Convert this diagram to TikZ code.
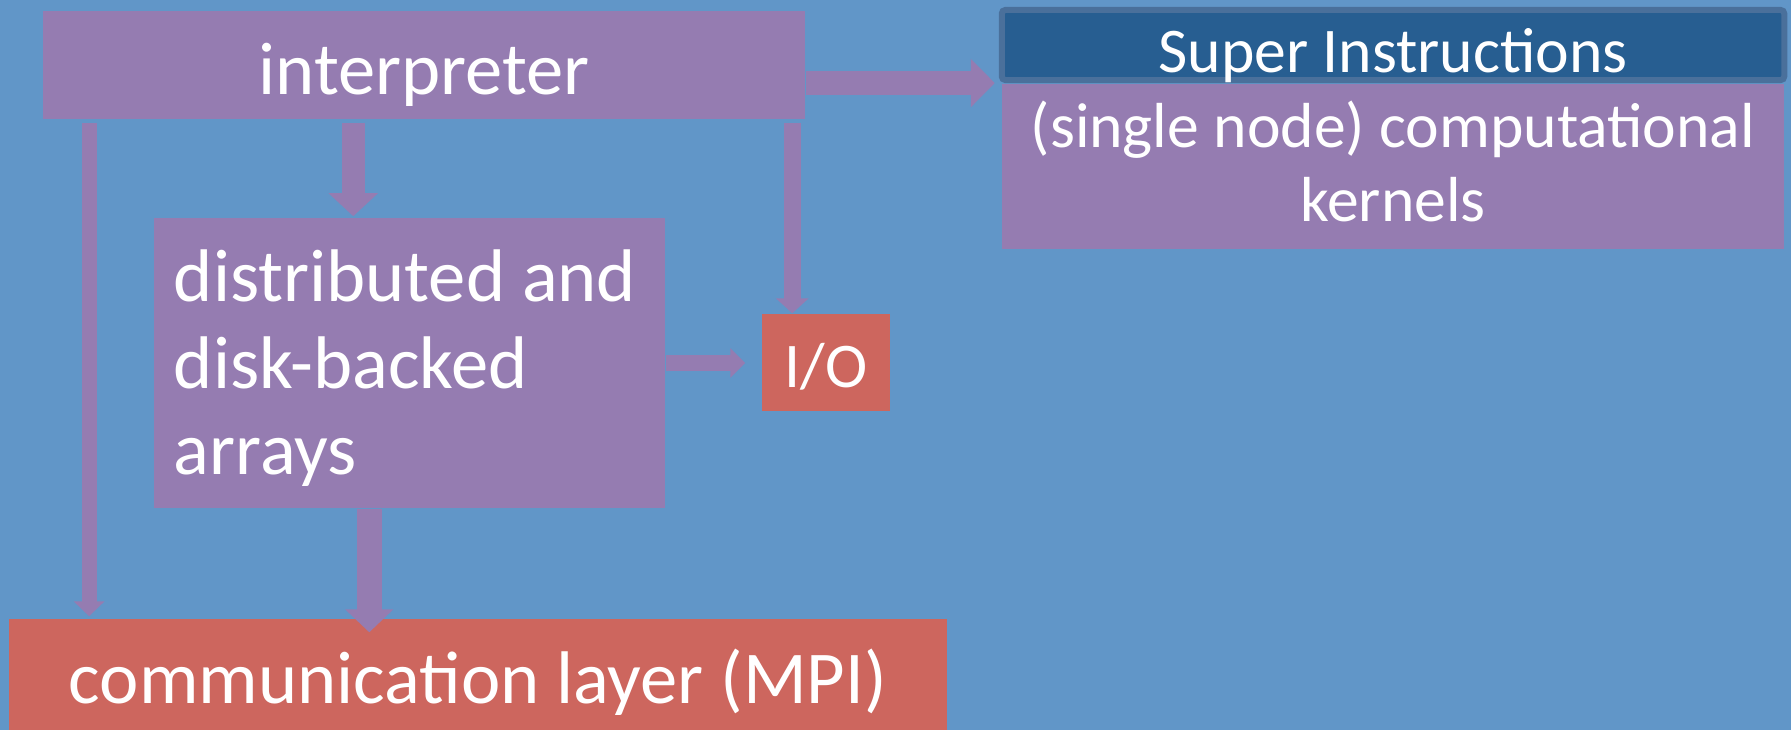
\documentclass[tikz,border=0pt]{standalone}
\usepackage{fontspec}
\setmainfont{Carlito}
\usetikzlibrary{arrows.meta,positioning}
\definecolor{bgblue}{RGB}{97,150,200}
\definecolor{purp}{RGB}{149,124,177}
\definecolor{redb}{RGB}{205,102,94}
\definecolor{darkb}{RGB}{39,94,145}
\definecolor{edgeb}{RGB}{74,112,155}
\tikzset{
  blockbox/.style={fill=#1, text=white, inner sep=0pt},
  bigtxt/.style={font=\fontsize{21.2}{24.5}\selectfont},
  smalltxt/.style={font=\fontsize{18.1}{21}\selectfont},
  arr/.style n args={3}{draw=purp, line width=#1, -{Triangle[width=#2,length=#3]}}
}

\begin{document}
\begin{tikzpicture}[x=0.01cm,y=-0.01cm]
\fill[bgblue] (0,0) rectangle (1791,730);

\node[blockbox=purp, bigtxt, minimum width=7.62cm, minimum height=1.08cm, text height=0.58cm, text depth=0pt] (interp) at (424,65) {interpreter};
\node[blockbox=darkb, draw=edgeb, line width=0.06cm, rounded corners=1pt, smalltxt, minimum width=7.82cm, minimum height=0.70cm, text height=0.54cm, text depth=0pt] (super) at (1393,45) {Super Instructions};
\node[blockbox=purp, smalltxt, align=center, below=0pt of super, minimum width=7.82cm, minimum height=1.65cm, text height=1.11cm, text depth=0pt] (kern) {(single node) computational\\kernels};
\node[blockbox=purp, bigtxt, text width=4.71cm, inner xsep=0.2cm, align=flush left, minimum height=2.9cm, text height=0.5cm, text depth=1.72cm] (dist) at (409.5,363) {distributed and\\disk-backed\\arrays};
\node[blockbox=redb, smalltxt, minimum width=1.28cm, minimum height=0.97cm, text height=0.49cm, text depth=0pt] (io) at (826,362.5) {I/O};
\node[blockbox=redb, bigtxt, minimum width=9.38cm, minimum height=1.11cm, text height=0.57cm, text depth=0pt] (comm) at (478,674.5) {communication layer (MPI)};

\coordinate (ad) at ([xshift=2cm]dist.north west);
\coordinate (ac) at ([xshift=0.47cm]interp.south west);
\coordinate (ai) at ([xshift=0.31cm]io.north west);
\coordinate (dc) at ([xshift=2.16cm]dist.south west);

\draw[arr={0.24cm}{0.47cm}{0.24cm}, shorten >=0.04cm] (interp.east |- super.south west) -- (super.south west);
\draw[arr={0.23cm}{0.48cm}{0.23cm}, shorten <=0.03cm, shorten >=0.01cm] (ad |- interp.south) -- (ad);
\draw[arr={0.15cm}{0.30cm}{0.15cm}, shorten <=0.03cm, shorten >=0.02cm] (ac) -- (ac |- comm.north);
\draw[arr={0.17cm}{0.32cm}{0.15cm}, shorten <=0.03cm] (ai |- interp.south) -- (ai);
\draw[arr={0.16cm}{0.29cm}{0.15cm}, shorten >=0.16cm] (dist.east) -- (dist.east -| io.west);
\draw[arr={0.25cm}{0.47cm}{0.23cm}, shorten >=-0.14cm] (dc) -- (dc |- comm.north);
\end{tikzpicture}
\end{document}
